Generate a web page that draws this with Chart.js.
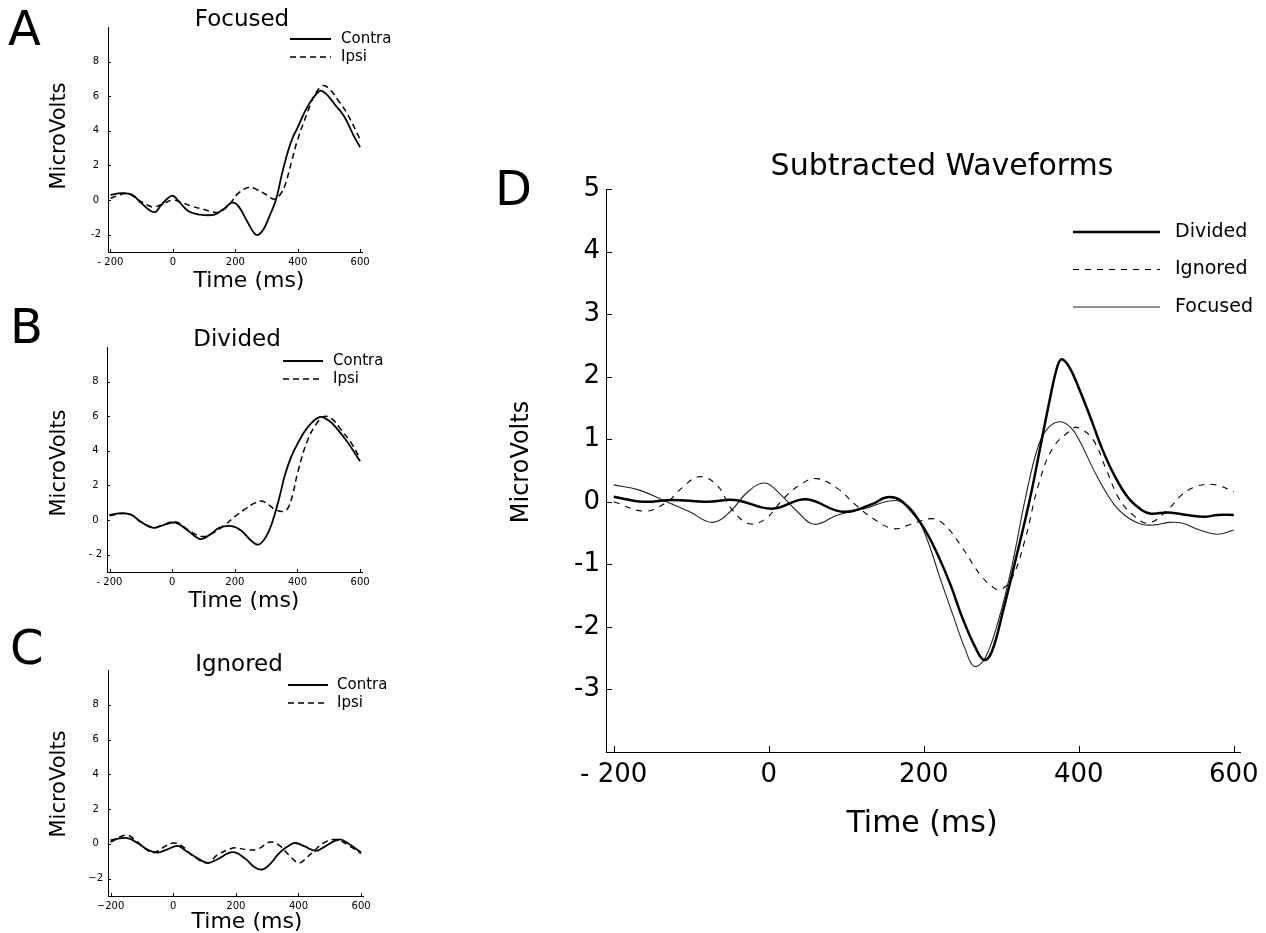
<!DOCTYPE html>
<html lang="en">
<head>
    <meta charset="UTF-8">
    <title>Contra / Ipsi waveforms</title>
    <script src="https://cdn.jsdelivr.net/npm/chart.js"></script>
    <style>
        body {
            margin: 0;
            background: #fff;
            width: 1266px;
            height: 933px;
            position: relative;
            overflow: hidden;
        }
        canvas {
            position: absolute;
        }
    </style>
</head>
<body>
    <canvas id="panelA" width="400" height="300" style="left:0;top:0"></canvas>
    <canvas id="panelB" width="400" height="320" style="left:0;top:300px"></canvas>
    <canvas id="panelC" width="400" height="313" style="left:0;top:620px"></canvas>
    <canvas id="panelD" width="786" height="720" style="left:480px;top:130px"></canvas>

    <script>
        // ---- data (time in ms, amplitude in microvolts) ----
        const smallYTicks = [-2, 0, 2, 4, 6, 8];
        const xTicks = [-200, 0, 200, 400, 600];
        const aXLabels = ['- 200', '0', '200', '400', '600'];
        const aYLabels = ['-2', '0', '2', '4', '6', '8'];
        const bXLabels = ['- 200', '0', '200', '400', '600'];
        const bYLabels = ['- 2', '0', '2', '4', '6', '8'];
        const cXLabels = ['\u2212200', '0', '200', '400', '600'];
        const cYLabels = ['\u22122', '0', '2', '4', '6', '8'];
        const dYTicks = [-3, -2, -1, 0, 1, 2, 3, 4, 5];
        const dXLabels = ['- 200', '0', '200', '400', '600'];
        const dYLabels = ['-3', '-2', '-1', '0', '1', '2', '3', '4', '5'];

        // A - Focused
        const aContraT = [-200, -165, -130, -100, -60, -40, -20, 0, 20, 50, 80, 130, 160, 190, 210, 240, 260, 272, 290, 310, 330, 350, 370, 385, 400, 430, 470, 490, 520, 550, 580, 600];
        const aContraV = [0.3, 0.4, 0.3, -0.2, -0.7, -0.35, 0.05, 0.25, -0.1, -0.65, -0.82, -0.85, -0.55, -0.15, -0.35, -1.3, -1.9, -2.02, -1.7, -0.9, 0.0, 1.55, 2.9, 3.65, 4.2, 5.35, 6.3, 6.15, 5.5, 4.8, 3.7, 3.05];
        const aIpsiT = [-200, -170, -145, -110, -80, -60, -30, 0, 30, 60, 100, 130, 150, 170, 190, 210, 245, 270, 300, 325, 345, 360, 380, 400, 430, 455, 480, 500, 530, 560, 600];
        const aIpsiV = [0.1, 0.3, 0.38, 0.0, -0.3, -0.4, -0.2, 0.0, -0.15, -0.35, -0.55, -0.7, -0.7, -0.45, -0.05, 0.4, 0.75, 0.6, 0.3, 0.05, 0.35, 0.9, 2.2, 3.5, 5.0, 6.1, 6.6, 6.45, 5.75, 4.95, 3.5];

        // B - Divided
        const bContraT = [-200, -160, -130, -100, -60, -30, 10, 50, 90, 120, 150, 190, 220, 250, 275, 300, 320, 340, 360, 380, 400, 430, 470, 500, 530, 560, 600];
        const bContraV = [0.3, 0.4, 0.3, -0.1, -0.45, -0.3, -0.15, -0.6, -1.1, -0.85, -0.45, -0.35, -0.6, -1.15, -1.42, -0.95, -0.1, 1.15, 2.6, 3.65, 4.4, 5.3, 5.95, 5.75, 5.2, 4.5, 3.4];
        const bIpsiT = [-200, -160, -130, -100, -60, -30, 10, 50, 95, 130, 170, 200, 230, 260, 285, 310, 330, 355, 370, 385, 400, 430, 460, 485, 510, 540, 570, 600];
        const bIpsiV = [0.25, 0.38, 0.3, -0.1, -0.42, -0.28, -0.1, -0.55, -0.95, -0.75, -0.25, 0.2, 0.6, 0.95, 1.1, 0.85, 0.6, 0.5, 0.7, 1.5, 2.7, 4.5, 5.55, 5.98, 5.85, 5.2, 4.5, 3.55];

        // C - Ignored
        const cContraT = [-200, -165, -140, -110, -80, -50, -20, 15, 40, 80, 110, 140, 190, 230, 260, 285, 310, 340, 370, 390, 420, 455, 480, 530, 560, 600];
        const cContraV = [0.2, 0.33, 0.3, 0.0, -0.35, -0.5, -0.33, -0.12, -0.4, -0.85, -1.1, -0.9, -0.48, -0.85, -1.35, -1.48, -1.15, -0.5, -0.1, 0.05, -0.15, -0.4, -0.2, 0.25, 0.0, -0.5];
        const cIpsiT = [-200, -150, -120, -80, -60, -40, 0, 30, 60, 110, 140, 180, 200, 240, 270, 310, 340, 370, 400, 420, 450, 480, 520, 560, 600];
        const cIpsiV = [0.1, 0.5, 0.2, -0.4, -0.5, -0.3, 0.05, -0.15, -0.65, -1.1, -0.65, -0.3, -0.23, -0.35, -0.3, 0.1, -0.1, -0.65, -1.1, -0.9, -0.4, 0.05, 0.25, -0.1, -0.55];

        // D - Subtracted waveforms
        const dDividedT = [-200, -162, -125, -79, -44, 4, 48, 95, 135, 151, 169, 192, 210, 233, 250, 267, 278, 288, 302, 319, 337, 350, 362, 372, 378, 388, 400, 415, 430, 446, 464, 481, 493, 516, 539, 562, 579, 600];
        const dDividedV = [0.08, 0.0, 0.03, 0.0, 0.03, -0.11, 0.04, -0.16, -0.03, 0.07, 0.03, -0.27, -0.64, -1.28, -1.86, -2.34, -2.53, -2.39, -1.76, -0.9, 0.05, 0.85, 1.6, 2.15, 2.28, 2.15, 1.82, 1.35, 0.85, 0.42, 0.06, -0.13, -0.19, -0.17, -0.21, -0.24, -0.21, -0.21];
        const dIgnoredT = [-200, -160, -131, -113, -90, -67, -47, -25, -4, 19, 40, 62, 89, 112, 135, 161, 181, 210, 227, 250, 273, 291, 300, 314, 331, 348, 366, 389, 398, 418, 435, 452, 470, 490, 516, 533, 550, 570, 585, 600];
        const dIgnoredV = [0.0, -0.15, 0.0, 0.21, 0.4, 0.27, -0.13, -0.35, -0.27, 0.05, 0.27, 0.37, 0.21, -0.05, -0.27, -0.43, -0.37, -0.27, -0.37, -0.74, -1.17, -1.38, -1.4, -1.22, -0.59, 0.27, 0.85, 1.14, 1.19, 1.0, 0.53, 0.05, -0.21, -0.34, -0.11, 0.11, 0.24, 0.28, 0.24, 0.16];
        const dFocusedT = [-200, -168, -137, -102, -73, -50, -27, -5, 14, 37, 59, 89, 123, 165, 187, 204, 221, 239, 253, 265, 279, 296, 314, 331, 348, 362, 377, 390, 400, 423, 446, 464, 481, 498, 516, 533, 556, 579, 600];
        const dFocusedV = [0.27, 0.19, 0.03, -0.16, -0.33, -0.16, 0.16, 0.3, 0.13, -0.16, -0.36, -0.21, -0.11, 0.02, -0.16, -0.59, -1.22, -1.86, -2.34, -2.63, -2.5, -1.91, -1.01, 0.05, 0.9, 1.2, 1.28, 1.18, 1.0, 0.42, -0.05, -0.26, -0.36, -0.37, -0.33, -0.34, -0.45, -0.52, -0.45];

        const FONT = "'DejaVu Sans', sans-serif";

        function pts(ts, vs) {
            return ts.map((t, i) => ({ x: t, y: vs[i] }));
        }

        function line(label, ts, vs, width, dash, color) {
            return {
                label: label,
                data: pts(ts, vs),
                borderColor: color || '#000',
                borderWidth: width,
                borderDash: dash || [],
                pointRadius: 0,
                fill: false,
                tension: 0.4
            };
        }

        // draws the panel letter, titles, legend and the inward tick marks
        function decor(cfg) {
            return {
                id: 'decor',
                afterDraw(chart) {
                    const ctx = chart.ctx;
                    ctx.save();
                    ctx.translate(-cfg.ox, -cfg.oy);
                    ctx.fillStyle = '#000';
                    cfg.texts.forEach(t => {
                        ctx.save();
                        ctx.font = t.size + 'px ' + FONT;
                        ctx.textAlign = t.align || 'center';
                        ctx.textBaseline = 'alphabetic';
                        ctx.translate(t.x, t.y);
                        if (t.rot) ctx.rotate(-Math.PI / 2);
                        ctx.fillText(t.text, 0, 0);
                        ctx.restore();
                    });

                    const lg = cfg.legend;
                    chart.data.datasets.forEach((ds, i) => {
                        const y = lg.y + i * lg.gap;
                        ctx.beginPath();
                        ctx.setLineDash(ds.borderDash);
                        ctx.lineWidth = ds.borderWidth;
                        ctx.strokeStyle = ds.borderColor;
                        ctx.moveTo(lg.x0, y);
                        ctx.lineTo(lg.x1, y);
                        ctx.stroke();
                        ctx.setLineDash([]);
                        ctx.font = lg.size + 'px ' + FONT;
                        ctx.textAlign = 'left';
                        ctx.textBaseline = 'middle';
                        ctx.fillText(ds.label, lg.tx, y);
                    });
                    ctx.restore();

                    // tick marks pointing into the plot
                    const a = chart.chartArea;
                    const xs = chart.scales.x, ys = chart.scales.y;
                    ctx.save();
                    ctx.strokeStyle = '#000';
                    ctx.lineWidth = 1;
                    ctx.beginPath();
                    xs.ticks.forEach(t => {
                        const px = Math.round(xs.getPixelForValue(t.value)) + 0.5;
                        ctx.moveTo(px, a.bottom);
                        ctx.lineTo(px, a.bottom - cfg.tick);
                    });
                    ys.ticks.forEach(t => {
                        const py = Math.round(ys.getPixelForValue(t.value)) + 0.5;
                        ctx.moveTo(a.left, py);
                        ctx.lineTo(a.left + cfg.tick, py);
                    });
                    ctx.stroke();
                    ctx.restore();
                }
            };
        }

        function makeChart(id, p) {
            new Chart(document.getElementById(id), {
                type: 'line',
                data: { datasets: p.datasets },
                options: {
                    responsive: false,
                    animation: false,
                    devicePixelRatio: 1,
                    layout: { autoPadding: false, padding: p.padding },
                    plugins: { legend: { display: false }, tooltip: { enabled: false } },
                    scales: {
                        x: {
                            type: 'linear',
                            min: p.xMin,
                            max: p.xMax,
                            afterBuildTicks: s => { s.ticks = xTicks.map(v => ({ value: v })); },
                            afterFit: s => { s.height = p.xBox; s.paddingLeft = 0; s.paddingRight = 0; },
                            grid: { display: false, drawTicks: false },
                            border: { display: true, color: '#000', width: 1 },
                            ticks: {
                                autoSkip: false,
                                maxRotation: 0,
                                padding: p.xPad,
                                color: '#000',
                                font: { family: FONT, size: p.tickSize },
                                callback: (v, i) => p.xLabels[i]
                            }
                        },
                        y: {
                            type: 'linear',
                            min: p.yMin,
                            max: p.yMax,
                            afterBuildTicks: s => { s.ticks = p.yTicks.map(v => ({ value: v })); },
                            afterFit: s => { s.width = p.yBox; s.paddingTop = 0; s.paddingBottom = 0; },
                            grid: { display: false, drawTicks: false },
                            border: { display: true, color: '#000', width: 1 },
                            ticks: {
                                autoSkip: false,
                                padding: p.yPad,
                                crossAlign: p.crossAlign,
                                color: '#000',
                                font: { family: FONT, size: p.tickSize },
                                callback: (v, i) => p.yLabels[i]
                            }
                        }
                    }
                },
                plugins: [decor(p.decor)]
            });
        }

        const smallBase = { xMin: -208, xMax: 606, yMin: -3, yMax: 10, yTicks: smallYTicks, xBox: 20, yBox: 40, tickSize: 10, xPad: 4, crossAlign: 'center' };

        makeChart('panelA', Object.assign({}, smallBase, {
            datasets: [line('Contra', aContraT, aContraV, 1.8), line('Ipsi', aIpsiT, aIpsiV, 1.5, [6, 4])],
            padding: { left: 68, top: 27, right: 38, bottom: 28 },
            xLabels: aXLabels, yLabels: aYLabels, yPad: 7,
            decor: {
                ox: 0, oy: 0, tick: 3,
                texts: [
                    { text: 'A', x: 8, y: 45, size: 48, align: 'left' },
                    { text: 'Focused', x: 242, y: 26, size: 23 },
                    { text: 'Time (ms)', x: 249, y: 287, size: 22 },
                    { text: 'MicroVolts', x: 65, y: 136, size: 21, rot: true }
                ],
                legend: { x0: 290, x1: 331, tx: 341, y: 39, gap: 18, size: 15 }
            }
        }));

        makeChart('panelB', Object.assign({}, smallBase, {
            datasets: [line('Contra', bContraT, bContraV, 1.8), line('Ipsi', bIpsiT, bIpsiV, 1.5, [6, 4])],
            padding: { left: 67, top: 47, right: 38, bottom: 28 },
            xLabels: bXLabels, yLabels: bYLabels, yPad: 5,
            decor: {
                ox: 0, oy: 300, tick: 3,
                texts: [
                    { text: 'B', x: 10, y: 343, size: 48, align: 'left' },
                    { text: 'Divided', x: 237, y: 346, size: 23 },
                    { text: 'Time (ms)', x: 244, y: 607, size: 22 },
                    { text: 'MicroVolts', x: 65, y: 463, size: 21, rot: true }
                ],
                legend: { x0: 283, x1: 323, tx: 333, y: 361, gap: 18, size: 15 }
            }
        }));

        makeChart('panelC', Object.assign({}, smallBase, {
            datasets: [line('Contra', cContraT, cContraV, 1.8), line('Ipsi', cIpsiT, cIpsiV, 1.5, [6, 4])],
            padding: { left: 68, top: 50, right: 37, bottom: 17 },
            xLabels: cXLabels, yLabels: cYLabels, yPad: 5,
            decor: {
                ox: 0, oy: 620, tick: 3,
                texts: [
                    { text: 'C', x: 10, y: 664, size: 48, align: 'left' },
                    { text: 'Ignored', x: 239, y: 671, size: 23 },
                    { text: 'Time (ms)', x: 247, y: 928, size: 22 },
                    { text: 'MicroVolts', x: 65, y: 784, size: 21, rot: true }
                ],
                legend: { x0: 288, x1: 328, tx: 337, y: 685, gap: 18, size: 15 }
            }
        }));

        makeChart('panelD', {
            datasets: [
                line('Divided', dDividedT, dDividedV, 2.5),
                line('Ignored', dIgnoredT, dIgnoredV, 1.1, [6, 6]),
                line('Focused', dFocusedT, dFocusedV, 1.1, [], '#222')
            ],
            padding: { left: 56, top: 59, right: 26, bottom: 48 },
            xMin: -210, xMax: 608, yMin: -4, yMax: 5, yTicks: dYTicks,
            xBox: 50, yBox: 70, tickSize: 26, xPad: 8, yPad: 6, crossAlign: 'near',
            xLabels: dXLabels, yLabels: dYLabels,
            decor: {
                ox: 480, oy: 130, tick: 6,
                texts: [
                    { text: 'D', x: 495, y: 205, size: 48, align: 'left' },
                    { text: 'Subtracted Waveforms', x: 942, y: 175, size: 30 },
                    { text: 'Time (ms)', x: 922, y: 832, size: 30 },
                    { text: 'MicroVolts', x: 528, y: 462, size: 24, rot: true }
                ],
                legend: { x0: 1073, x1: 1160, tx: 1175, y: 232, gap: 37.5, size: 19 }
            }
        });
    </script>
</body>
</html>
